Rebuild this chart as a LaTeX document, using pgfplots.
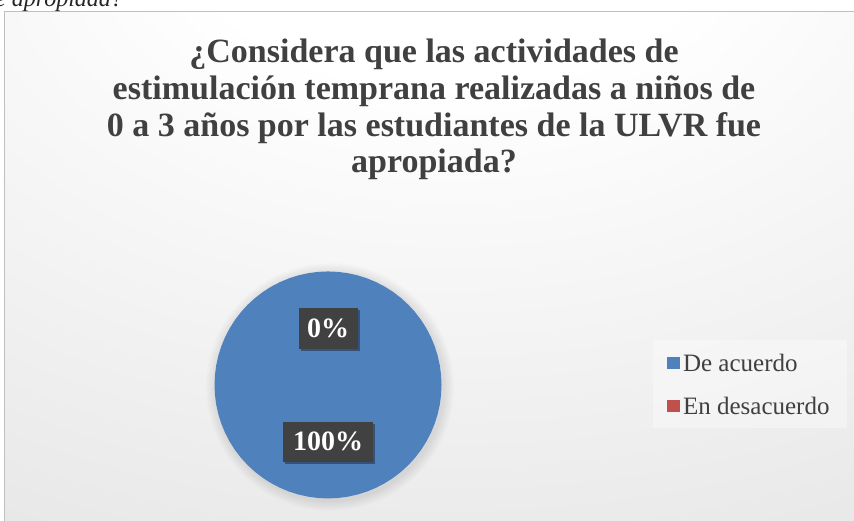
\documentclass[border=0pt]{standalone}
\usepackage{pgfplots}
\pgfplotsset{compat=1.18}
\usepgfplotslibrary{polar}
\usetikzlibrary{shadows}
\usepackage{fontspec}
\setmainfont{Liberation Serif}
\definecolor{txt}{HTML}{404040}
\definecolor{blueA}{HTML}{4F81BD}
\definecolor{redA}{HTML}{C0504D}
\definecolor{lblbg}{HTML}{414141}
\pgfdeclareradialshading{bgshade}{\pgfpoint{1bp}{38bp}}{color(0bp)=(white); color(15bp)=(white); color(52bp)=(black!9); color(62bp)=(black!12); color(100bp)=(black!17); color(120bp)=(black!17)}
\begin{document}
\begin{tikzpicture}[x=1pt,y=1pt]
\useasboundingbox (0,0) rectangle (854,520);
\clip (0,0) rectangle (854,520);
\shade[shading=bgshade] (4.5,-10) rectangle (870,508.5);
\draw[color=black!25, line width=1.5pt] (4.5,-10) rectangle (870,508.5);
\node[anchor=base west, font=\itshape\fontsize{24}{24}\selectfont, inner sep=0pt, text=black!85] at (-5,513) {e apropiada?};
\begin{scope}[font=\bfseries\fontsize{34}{36.7}\selectfont, text=txt]
\node[anchor=base, inner sep=0pt] at (434,457) {¿Considera que las actividades de};
\node[anchor=base, inner sep=0pt] at (434,420) {estimulación temprana realizadas a niños de};
\node[anchor=base, inner sep=0pt] at (434,383) {0 a 3 años por las estudiantes de la ULVR fue};
\node[anchor=base, inner sep=0pt] at (434,347) {apropiada?};
\end{scope}
\foreach \r in {1,...,8} \fill[black, opacity=0.012] (330,133) circle ({113.5+\r*1.3});
\begin{axis}[at={(189,19)}, anchor=south west, x=113.5pt, y=113.5pt,
  xmin=-1, xmax=1, ymin=-1, ymax=1, hide axis, clip=false,
  legend image code/.code={\fill[#1, fill opacity=1] (-3pt,-6pt) rectangle (10pt,6pt);},
  legend style={at={(axis description cs:1.931,0.697)}, anchor=north west,
    draw=none, fill=white, fill opacity=0.35, text opacity=1,
    font=\fontsize{25}{25}\selectfont, text=txt,
    inner xsep=14pt, inner ysep=11pt, row sep=20pt,
    nodes={inner xsep=3pt, inner ysep=0pt, text height=20pt, text depth=3pt},
    cells={anchor=west}},
]
% De acuerdo: 100% -> slice sweeps 360 degrees clockwise from 12 o'clock
\addplot[draw=none, fill=blueA, data cs=polar] coordinates {
(90,1) (85,1) (80,1) (75,1) (70,1) (65,1) (60,1) (55,1) (50,1) (45,1) (40,1) (35,1) (30,1) (25,1) (20,1) (15,1) (10,1) (5,1) (0,1) (-5,1) (-10,1) (-15,1) (-20,1) (-25,1) (-30,1) (-35,1) (-40,1) (-45,1) (-50,1) (-55,1) (-60,1) (-65,1) (-70,1) (-75,1) (-80,1) (-85,1) (-90,1) (-95,1) (-100,1) (-105,1) (-110,1) (-115,1) (-120,1) (-125,1) (-130,1) (-135,1) (-140,1) (-145,1) (-150,1) (-155,1) (-160,1) (-165,1) (-170,1) (-175,1) (-180,1) (-185,1) (-190,1) (-195,1) (-200,1) (-205,1) (-210,1) (-215,1) (-220,1) (-225,1) (-230,1) (-235,1) (-240,1) (-245,1) (-250,1) (-255,1) (-260,1) (-265,1) (-270,1)
} -- cycle;
\addlegendentry{De acuerdo}
% En desacuerdo: 0% -> empty slice
\addplot[draw=none, fill=redA, data cs=polar] coordinates {(90,0) (90,0)};
\addlegendentry{En desacuerdo}
\node[fill=lblbg, text=white, font=\bfseries\fontsize{28}{28}\selectfont, minimum width=59pt, minimum height=41pt, inner sep=0pt,
  drop shadow={shadow xshift=2pt, shadow yshift=-2pt, opacity=0.35, fill=black}] at (axis cs:0,0.5) {0\%};
\node[fill=lblbg, text=white, font=\bfseries\fontsize{28}{28}\selectfont, minimum width=90pt, minimum height=40pt, inner sep=0pt,
  drop shadow={shadow xshift=2pt, shadow yshift=-2pt, opacity=0.35, fill=black}] at (axis cs:0,-0.5) {100\%};
\end{axis}
\end{tikzpicture}
\end{document}
